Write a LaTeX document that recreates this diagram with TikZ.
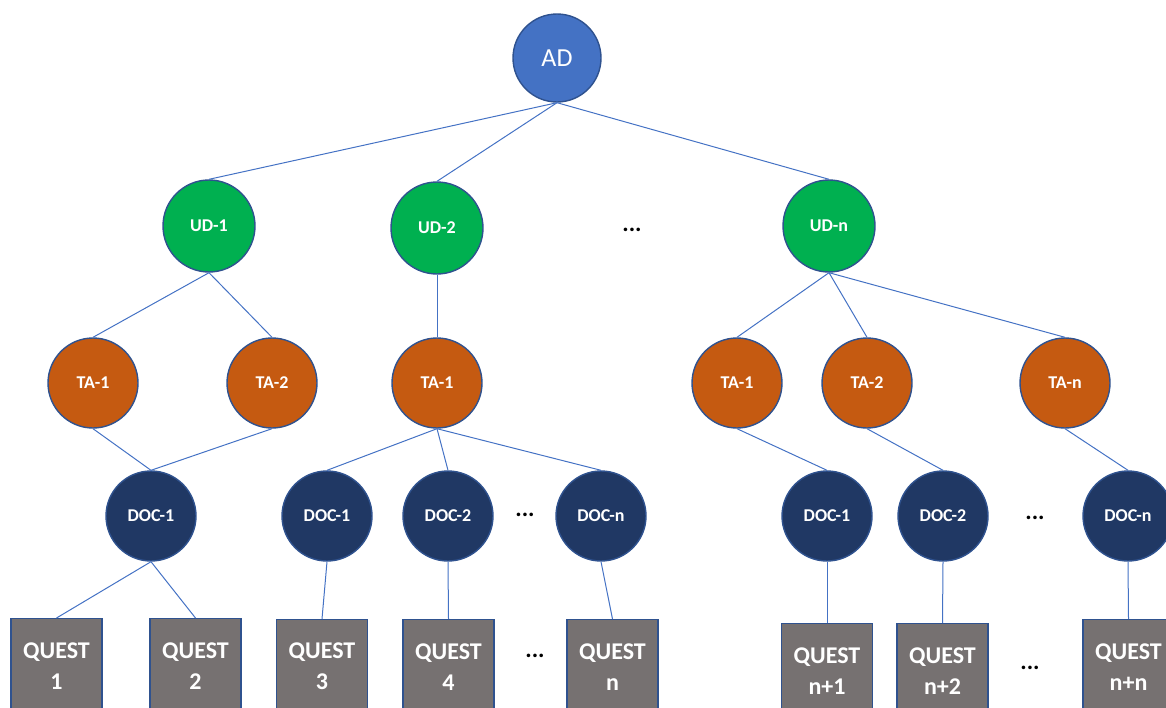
\documentclass[tikz,border=0pt]{standalone}
\usepackage{fontspec}
\setmainfont{Carlito}
\definecolor{adblue}{HTML}{4472C4}
\definecolor{edgeblue}{HTML}{2F528F}
\definecolor{udgreen}{HTML}{00B050}
\definecolor{taorange}{HTML}{C55A11}
\definecolor{docnavy}{HTML}{203864}
\definecolor{questgray}{HTML}{767171}
\tikzset{
  circ/.style={circle, draw=edgeblue, line width=1.4pt, minimum size=90pt, inner sep=0pt, text=white, font=\bfseries\fontsize{18}{20}\selectfont},
  adnode/.style={circ, fill=adblue, minimum size=88pt, font=\fontsize{26}{28}\selectfont},
  udnode/.style={circ, fill=udgreen, minimum size=92pt},
  tanode/.style={circ, fill=taorange},
  docnode/.style={circ, fill=docnavy},
  questbox/.style={rectangle, draw=edgeblue, line width=1.4pt, fill=questgray, minimum width=91pt, minimum height=94pt, inner sep=0pt, anchor=north, align=center, text=white, font=\bfseries\fontsize{24}{31}\selectfont},
  link/.style={draw=adblue, line width=1pt},
  dots/.style={font=\bfseries\fontsize{24}{26}\selectfont, text=black}
}
\begin{document}
\begin{tikzpicture}[x=1pt, y=-1pt]
\useasboundingbox (0,0) rectangle (1166,707);
% root
\node[adnode] (AD) at (557,58) {AD};
% UD row
\node[udnode] (UD1) at (209,226) {UD-1};
\node[udnode] (UD2) at (437,228) {UD-2};
\node[udnode] (UDn) at (829,226) {UD-n};
\node[dots] (d1) at (632,230) {...};
% TA row
\node[tanode] (TA11) at (93,383) {TA-1};
\node[tanode] (TA12) at (272,383) {TA-2};
\node[tanode] (TA21) at (437,383) {TA-1};
\node[tanode] (TAn1) at (737,383) {TA-1};
\node[tanode] (TAn2) at (867,383) {TA-2};
\node[tanode] (TAnn) at (1065,383) {TA-n};
% DOC row
\node[docnode] (D11) at (151,516) {DOC-1};
\node[docnode] (D21) at (327,516) {DOC-1};
\node[docnode] (D22) at (448,516) {DOC-2};
\node[dots] (d2) at (525,515) {...};
\node[docnode] (D2n) at (601,516) {DOC-n};
\node[docnode] (Dn1) at (827,516) {DOC-1};
\node[docnode] (Dn2) at (943,516) {DOC-2};
\node[dots] (d3) at (1035,518) {...};
\node[docnode] (Dnn) at (1128,516) {DOC-n};
% QUEST row
\node[questbox] (Q1) at (56.5,618) {QUEST\\1};
\node[questbox] (Q2) at (195.5,618) {QUEST\\2};
\node[questbox] (Q3) at (322,619) {QUEST\\3};
\node[questbox] (Q4) at (448.5,619) {QUEST\\4};
\node[dots] (d4) at (535,656) {...};
\node[questbox] (Qn) at (612.5,619) {QUEST\\n};
\node[questbox] (Qn1) at (827,623) {QUEST\\n+1};
\node[questbox] (Qn2) at (942.5,623) {QUEST\\n+2};
\node[dots] (d5) at (1030,668) {...};
\node[questbox] (Qnn) at (1128.5,619) {QUEST\\n+n};
% connectors
\draw[link] (AD.south) -- (UD1.north);
\draw[link] (AD.south) -- (UD2.north);
\draw[link] (AD.south) -- (UDn.north);
\draw[link] (UD1.south) -- (TA11.north);
\draw[link] (UD1.south) -- (TA12.north);
\draw[link] (UD2.south) -- (TA21.north);
\draw[link] (UDn.south) -- (TAn1.north);
\draw[link] (UDn.south) -- (TAn2.north);
\draw[link] (UDn.south) -- (TAnn.north);
\draw[link] (TA11.south) -- (D11.north);
\draw[link] (TA12.south) -- (D11.north);
\draw[link] (TA21.south) -- (D21.north);
\draw[link] (TA21.south) -- (D22.north);
\draw[link] (TA21.south) -- (D2n.north);
\draw[link] (TAn1.south) -- (Dn1.north);
\draw[link] (TAn2.south) -- (Dn2.north);
\draw[link] (TAnn.south) -- (Dnn.north);
\draw[link] (D11.south) -- (Q1.north);
\draw[link] (D11.south) -- (Q2.north);
\draw[link] (D21.south) -- (Q3.north);
\draw[link] (D22.south) -- (Q4.north);
\draw[link] (D2n.south) -- (Qn.north);
\draw[link] (Dn1.south) -- (Qn1.north);
\draw[link] (Dn2.south) -- (Qn2.north);
\draw[link] (Dnn.south) -- (Qnn.north);
\end{tikzpicture}
\end{document}
